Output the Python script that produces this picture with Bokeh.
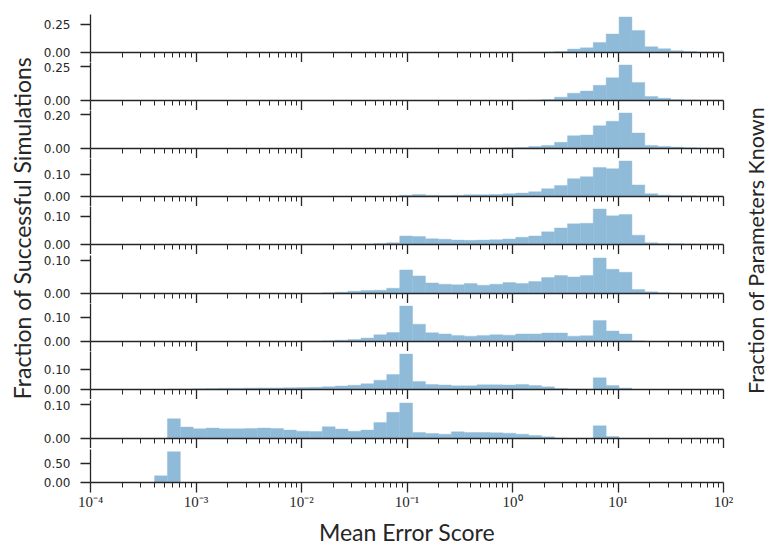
import math
from bokeh.plotting import figure
from bokeh.layouts import column, row
from bokeh.models import (Range1d, FixedTicker, PrintfTickFormatter,
                          CustomJSTickFormatter, Label, ColumnDataSource)
from bokeh.embed import file_html
from bokeh.resources import INLINE

# ---------------- data ----------------
# log10 of the shared histogram bin edges
log_edges = [-3.393, -3.271, -3.148, -3.026, -2.904, -2.782, -2.659, -2.537,
             -2.415, -2.292, -2.170, -2.048, -1.925, -1.803, -1.681, -1.559,
             -1.436, -1.314, -1.192, -1.069, -0.947, -0.825, -0.702, -0.580,
             -0.458, -0.336, -0.213, -0.091, 0.031, 0.154, 0.276, 0.398,
             0.521, 0.643, 0.765, 0.888, 1.010, 1.132, 1.254, 1.377,
             1.499, 1.621, 1.744, 1.866, 1.988]

known_labels = ["0.2", "0.3", "0.4", "0.5", "0.6", "0.7", "0.8", "0.9", "0.95", "1.0"]

# index of first bin of each series
bin_start = [29, 29, 26, 19, 15, 13, 11, 1, 1, 0]

frac_02 = [0.002, 0.004, 0.008, 0.031, 0.042, 0.090, 0.166, 0.319, 0.198, 0.052,
           0.034, 0.016, 0.009, 0.005, 0.003]
frac_03 = [0.003, 0.007, 0.025, 0.055, 0.070, 0.113, 0.170, 0.265, 0.135, 0.030,
           0.017, 0.006, 0.004, 0.002, 0.001]
frac_04 = [0.002, 0.004, 0.006, 0.012, 0.018, 0.036, 0.074, 0.078, 0.132, 0.158,
           0.206, 0.090, 0.018, 0.012, 0.008, 0.005, 0.003, 0.001]
frac_05 = [0.006, 0.0095, 0.006, 0.005, 0.006, 0.008, 0.008, 0.0095, 0.0127, 0.016,
           0.022, 0.0365, 0.051, 0.083, 0.092, 0.135, 0.129, 0.165, 0.054, 0.0127,
           0.0063, 0.004, 0.003, 0.002, 0.001]
frac_06 = [0.001, 0.002, 0.004, 0.006, 0.031, 0.029, 0.021, 0.019, 0.016, 0.015,
           0.016, 0.0175, 0.020, 0.026, 0.031, 0.046, 0.060, 0.075, 0.077, 0.129,
           0.104, 0.109, 0.034, 0.006, 0.004, 0.003, 0.002, 0.001]
frac_07 = [0.002, 0.004, 0.007, 0.009, 0.010, 0.016, 0.071, 0.053, 0.032, 0.028,
           0.026, 0.030, 0.025, 0.028, 0.033, 0.030, 0.036, 0.048, 0.054, 0.050,
           0.054, 0.107, 0.073, 0.064, 0.012, 0.005, 0.002, 0.001]
frac_08 = [0.002, 0.002, 0.003, 0.0055, 0.008, 0.014, 0.028, 0.037, 0.146, 0.071,
           0.036, 0.031, 0.025, 0.022, 0.025, 0.028, 0.026, 0.031, 0.031, 0.035,
           0.035, 0.022, 0.024, 0.086, 0.043, 0.031, 0.003]
frac_09 = [0.002, 0.003, 0.004, 0.005, 0.006, 0.006, 0.007, 0.008, 0.008, 0.009,
           0.010, 0.011, 0.014, 0.017, 0.021, 0.028, 0.046, 0.074, 0.175, 0.040,
           0.025, 0.022, 0.018, 0.018, 0.023, 0.023, 0.022, 0.025, 0.020, 0.013,
           0.005, 0.002, 0.001, 0.058, 0.020, 0.007]
frac_095 = [0.059, 0.034, 0.029, 0.031, 0.029, 0.029, 0.030, 0.031, 0.030, 0.025,
            0.022, 0.021, 0.035, 0.028, 0.022, 0.025, 0.048, 0.078, 0.106, 0.018,
            0.015, 0.013, 0.020, 0.018, 0.018, 0.017, 0.016, 0.013, 0.009, 0.005,
            0.001, 0.0, 0.0, 0.038, 0.006]
frac_10 = [0.177, 0.823]

panel_values = [frac_02, frac_03, frac_04, frac_05, frac_06, frac_07,
                frac_08, frac_09, frac_095, frac_10]

y_ticks = [[0, 0.25], [0, 0.25], [0, 0.2], [0, 0.1], [0, 0.1], [0, 0.1],
           [0, 0.1], [0, 0.1], [0, 0.1], [0, 0.5]]

x_major = [1e-4, 1e-3, 1e-2, 1e-1, 1e0, 1e1, 1e2]

# ---------------- layout / style ----------------
DARK = "#262626"
BAR = "#8fbbd9"
PAGE_H = 548
heights = [62, 48, 48, 48, 48, 49, 48, 48, 49, 100]
tops = [14, 0, 0, 0, 0, 1, 0, 0, 1, 1]
bottoms = [10] * 9 + [61]

x_minor = [m * 10.0 ** k for k in range(-4, 2) for m in range(2, 10)]
xr = Range1d(1e-4, 1e2)

sup_code = """
const sup = {"-": "\\u207b", "0": "\\u2070", "1": "\\u00b9", "2": "\\u00b2",
             "3": "\\u00b3", "4": "\\u2074", "5": "\\u2075", "6": "\\u2076",
             "7": "\\u2077", "8": "\\u2078", "9": "\\u2079"};
const e = Math.round(Math.log10(tick));
return "10" + String(e).split("").map(c => sup[c]).join("");
"""

panels = []
for i, vals in enumerate(panel_values):
    s = bin_start[i]
    left, right, top = [], [], []
    for j, v in enumerate(vals):
        if v <= 0:
            continue
        left.append(10 ** log_edges[s + j])
        right.append(10 ** log_edges[s + j + 1])
        top.append(v)
    src = ColumnDataSource(dict(left=left, right=right, top=top))
    y_end = max(vals) * 1.07

    p = figure(width=712, height=heights[i], x_axis_type="log", x_range=xr,
               y_range=Range1d(0, y_end), toolbar_location=None,
               output_backend="svg", min_border_left=52, min_border_right=27,
               min_border_top=tops[i], min_border_bottom=bottoms[i])
    p.outline_line_color = None
    p.grid.visible = False
    p.background_fill_color = "white"
    p.border_fill_color = "white"

    p.quad(left="left", right="right", bottom=0, top="top", source=src,
           fill_color=BAR, line_color=BAR, line_width=0.4)

    for ax in (p.xaxis[0], p.yaxis[0]):
        ax.axis_line_color = DARK
        ax.axis_line_width = 1.3
        ax.major_tick_line_color = DARK
        ax.major_tick_line_width = 1.3
        ax.minor_tick_line_color = DARK
        ax.minor_tick_line_width = 1.0
        ax.major_tick_in = 0
        ax.major_tick_out = 10
        ax.minor_tick_in = 0
        ax.minor_tick_out = 5
        ax.major_label_text_color = DARK

    ya = p.yaxis[0]
    ya.ticker = FixedTicker(ticks=y_ticks[i])
    ya.formatter = PrintfTickFormatter(format="%.2f")
    ya.major_label_text_font = "DejaVu Sans"
    ya.major_label_text_font_size = "12px"
    ya.major_label_standoff = 10

    xa = p.xaxis[0]
    xa.ticker = FixedTicker(ticks=x_major, minor_ticks=x_minor)
    xa.formatter = CustomJSTickFormatter(code=sup_code)
    if i < len(panel_values) - 1:
        xa.major_label_text_font_size = "0px"
        xa.major_label_text_color = None
        xa.major_label_standoff = 0
    else:
        xa.major_label_text_font = "Liberation Serif"
        xa.major_label_text_font_size = "15px"
        xa.major_label_standoff = 1
        xa.axis_label = "Mean Error Score"
        xa.axis_label_text_font = "Lato"
        xa.axis_label_text_font_size = "23px"
        xa.axis_label_text_font_style = "normal"
        xa.axis_label_text_color = DARK
        xa.axis_label_standoff = 5

    p.add_layout(Label(x=1e2, y=y_end / 2, text=known_labels[i], x_offset=0,
                       text_align="left", text_baseline="middle",
                       text_font="DejaVu Sans", text_font_size="12px",
                       text_color=DARK))
    panels.append(p)

# left big label
lf = figure(width=38, height=PAGE_H, x_range=Range1d(0, 38), y_range=Range1d(0, PAGE_H),
            x_axis_type=None, y_axis_type=None, toolbar_location=None,
            output_backend="svg", min_border=0)
lf.outline_line_color = None
lf.add_layout(Label(x=21, y=PAGE_H - 227.5, text="Fraction of Successful Simulations",
                    angle=math.pi / 2, text_align="center", text_baseline="middle",
                    text_font="Lato", text_font_size="23px", text_color=DARK))

# right big label: transparent strip that overlaps the panel column slightly
rf = figure(width=28, height=PAGE_H, x_range=Range1d(0, 28), y_range=Range1d(0, PAGE_H),
            x_axis_type=None, y_axis_type=None, toolbar_location=None,
            output_backend="svg", min_border=0, margin=(0, 0, 0, -10))
rf.outline_line_color = None
rf.background_fill_color = None
rf.border_fill_color = None
rf.add_layout(Label(x=15, y=PAGE_H - 250, text="Fraction of Parameters Known",
                    angle=math.pi / 2, text_align="center", text_baseline="middle",
                    text_font="Lato", text_font_size="21.5px", text_color=DARK))

layout = row(lf, column(*panels), rf)
open("out.html", "w").write(file_html(layout, INLINE))
